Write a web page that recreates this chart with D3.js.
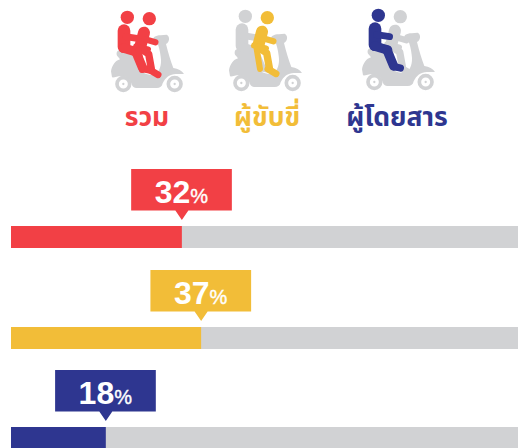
<!DOCTYPE html>
<html><head><meta charset="utf-8">
<script src="https://cdn.jsdelivr.net/npm/d3@7/dist/d3.min.js"></script>
<style>html,body{margin:0;padding:0;background:#fff;overflow:hidden}svg{display:block}</style>
</head><body><script>
const categories = ["รวม", "ผู้ขับขี่", "ผู้โดยสาร"];
const labelValues = [32, 37, 18];
const barValues = [33.7, 37.5, 18.7];
const colors = ["#f24045", "#f2bd38", "#2e3690"];
const trackColor = "#d1d2d4";
const highlightRear = [true, false, true];
const highlightFront = [true, true, false];

const W = 518, H = 448;
const svg = d3.select("body").append("svg").attr("width", W).attr("height", H);
const x = d3.scaleLinear().domain([0, 100]).range([11, 518]);
const yScale = d3.scalePoint().domain(categories).range([226, 427]);
const y = d => Math.ceil(yScale(d));
const barH = 22;
const textX = d3.scaleOrdinal().domain(categories).range([147, 267, 397]);
const iconX = d3.scaleOrdinal().domain(categories).range([100, 218, 351]);
const iconY = d3.scaleOrdinal().domain(categories).range([0, -1, -2]);
const font = "'Noto Sans','Noto Sans Thai','Open Sans',sans-serif";

const row = svg.selectAll("g.row").data(categories).join("g").attr("class", "row");
row.append("rect").attr("x", x(0)).attr("y", d => y(d)).attr("width", x(100) - x(0)).attr("height", barH).attr("fill", trackColor);
row.append("rect").attr("x", x(0)).attr("y", d => y(d)).attr("width", (d, i) => x(barValues[i]) - x(0)).attr("height", barH).attr("fill", (d, i) => colors[i]);
row.append("path").attr("fill", (d, i) => colors[i]).attr("d", (d, i) => {
  const t = x(barValues[i]), top = y(d) - 57, bot = top + 41.5, l = t - 50.7, r = t + 50;
  return `M${l},${top}H${r}V${bot}H${t + 6.5}L${t},${bot + 9.5}L${t - 6.5},${bot}H${l}Z`;
});
const lab = row.append("text").attr("x", (d, i) => x(barValues[i]) - 0.5).attr("y", d => y(d) - 23)
  .attr("text-anchor", "middle").attr("fill", "#fff").attr("font-family", "Liberation Sans, Arial, sans-serif").attr("font-weight", 700);
lab.append("tspan").attr("font-size", 32).text((d, i) => labelValues[i]);
lab.append("tspan").attr("font-size", 20).attr("font-weight", 400).attr("stroke", "#fff").attr("stroke-width", 0.4).text("%");

row.append("text").attr("x", d => textX(d)).attr("y", 126).attr("text-anchor", "middle")
  .attr("font-family", font).attr("font-weight", 700).attr("font-size", 26.5).attr("fill", (d, i) => colors[i]).text(d => d);

// Icon drawn in a 3x local space
const icon = row.append("g").attr("transform", d => `translate(${iconX(d)},${iconY(d)}) scale(${1 / 3})`);

function scooter(g) {
  g.append("path").attr("fill", trackColor).attr("d",
    "M33,214C36,196 46,182 60,178L54,170C48,166 48,152 58,150L106,150C114,170 116,196 128,216C140,226 156,224 168,224C178,212 186,196 182,170C180,152 176,138 172,128L160,126C156,112 166,106 182,106L200,104C210,108 210,126 198,132C204,156 212,184 220,204C234,206 246,212 252,222L232,222C212,220 196,232 188,250C186,260 180,264 170,264L108,264C100,264 96,258 94,250C90,236 78,228 64,228C52,228 42,234 36,232Z");
  [[70, 252], [224, 252]].forEach(c => {
    g.append("circle").attr("cx", c[0]).attr("cy", c[1]).attr("r", 19).attr("fill", "none").attr("stroke", trackColor).attr("stroke-width", 11);
    g.append("circle").attr("cx", c[0]).attr("cy", c[1]).attr("r", 3.5).attr("fill", trackColor);
  });
}
function limb(g, d, w, c) {
  g.append("path").attr("d", d).attr("fill", "none").attr("stroke", c).attr("stroke-width", w).attr("stroke-linecap", "round").attr("stroke-linejoin", "round");
}
function rear(g, c) {
  g.append("circle").attr("cx", 82).attr("cy", 52).attr("r", 20).attr("fill", c);
  limb(g, "M72,92L72,140", 38, c);
  limb(g, "M76,110L116,116", 20, c);
  limb(g, "M70,144L110,156", 28, c);
  limb(g, "M108,156L128,204", 28, c);
  limb(g, "M128,206L148,210", 22, c);
}
function front(g, c) {
  g.append("circle").attr("cx", 148).attr("cy", 56).attr("r", 20).attr("fill", c);
  limb(g, "M132,98L122,136", 36, c);
  limb(g, "M135,118L166,127", 19, c);
  limb(g, "M108,140L144,148", 18, c);
  limb(g, "M122,146L146,162L154,206", 22, c);
  limb(g, "M150,210L174,224", 21, c);
  limb(g, "M116,150L126,210", 18, c);
}
icon.each(function (d, i) {
  const g = d3.select(this);
  scooter(g);
  const cr = highlightRear[i] ? colors[i] : trackColor;
  const cf = highlightFront[i] ? colors[i] : trackColor;
  if (highlightRear[i] && !highlightFront[i]) { front(g, cf); rear(g, cr); }
  else { rear(g, cr); front(g, cf); }
});
</script></body></html>
